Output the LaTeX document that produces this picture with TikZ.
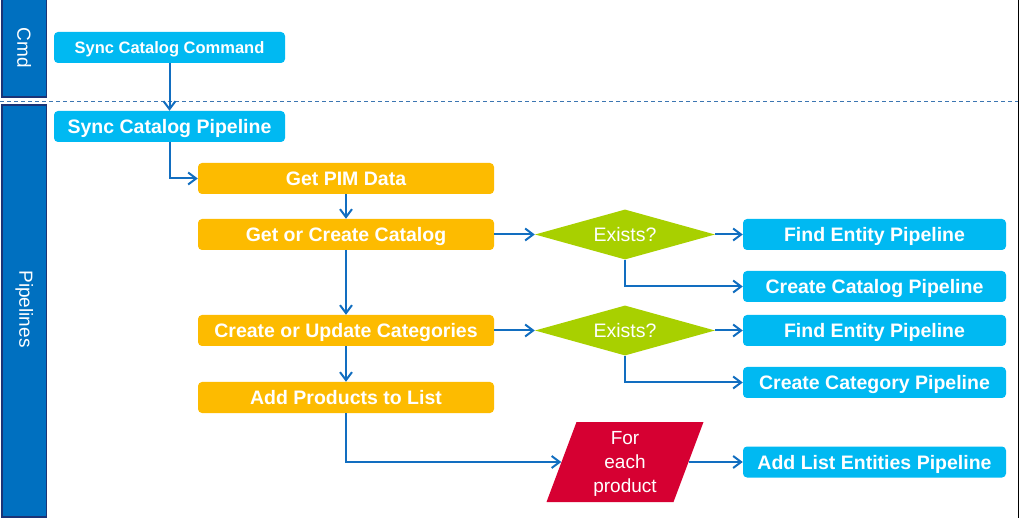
\documentclass[tikz,border=0pt]{standalone}
\usepackage{fontspec}
\setmainfont{Liberation Sans}
\usetikzlibrary{shapes.geometric,arrows.meta}

\definecolor{lanefill}{RGB}{0,112,192}
\definecolor{laneedge}{RGB}{28,52,118}
\definecolor{pipeblue}{RGB}{0,185,242}
\definecolor{stageorange}{RGB}{253,187,0}
\definecolor{checkgreen}{RGB}{168,208,0}
\definecolor{loopred}{RGB}{214,0,50}
\definecolor{flowblue}{RGB}{18,110,192}
\definecolor{splitblue}{RGB}{60,118,178}

\begin{document}
\begin{tikzpicture}[x=1pt,y=-1pt,
  lane/.style={draw=laneedge,line width=1.5pt,fill=lanefill},
  lanelabel/.style={text=white,rotate=-90,font=\fontsize{19}{21}\selectfont},
  pipe/.style={rounded corners=4pt,fill=pipeblue,text=white,inner sep=0pt,
    text height=14pt,text depth=0pt,
    font=\bfseries\fontsize{19.5}{21}\selectfont,minimum width=263pt,minimum height=31pt},
  stage/.style={pipe,fill=stageorange,minimum width=296pt},
  check/.style={diamond,aspect=3.6,fill=checkgreen,text=white,inner sep=0pt,
    text height=14pt,text depth=0pt,
    font=\fontsize{19.5}{21}\selectfont,minimum width=180pt,minimum height=50pt},
  flow/.style={draw=flowblue,line width=2pt,-{Straight Barb[length=8pt,width=12pt]}}
]
  \useasboundingbox (0,0) rectangle (1020,518);

  % lanes
  \draw[lane] (2,-3) rectangle (46.5,97);
  \node[lanelabel] (cmdlane) at (24.25,48) {Cmd};
  \draw[lane] (2,105) rectangle (46.5,517);
  \node[lanelabel] (pipelane) at (24.25,309) {Pipelines};
  \draw[splitblue,line width=1pt,dash pattern=on 4pt off 3pt] (0,102) -- (1020,102);
  \draw[black,line width=1pt] (1018.5,0) -- (1018.5,518);

  % left column
  \node[pipe,minimum width=231pt,text height=12pt,font=\bfseries\fontsize{16.5}{18}\selectfont] (cmd) at (169.5,47.5) {Sync Catalog Command};
  \node[pipe,minimum width=231pt] (syncpipe) at (169.5,126.5) {Sync Catalog Pipeline};
  \node[stage] (pim) at (346,178.5) {Get PIM Data};
  \node[stage] (getcat) at (346,234.5) {Get or Create Catalog};
  \node[stage] (updcat) at (346,330.5) {Create or Update Categories};
  \node[stage] (addprod) at (346,397.5) {Add Products to List};

  % checks
  \node[check] (exists1) at (625,234.5) {Exists?};
  \node[check] (exists2) at (625,330.5) {Exists?};

  % loop
  \fill[loopred] (576.5,422) -- (703.5,422) -- (673.5,502) -- (546.5,502) -- cycle;
  \node[text=white,align=center,inner sep=0pt,minimum width=127pt,minimum height=80pt,
    font=\fontsize{19}{24}\selectfont] (foreach) at (625,462) {\strut For\\each\\product};

  % right column
  \node[pipe] (find1) at (874.5,234.5) {Find Entity Pipeline};
  \node[pipe] (createcat) at (874.5,286.5) {Create Catalog Pipeline};
  \node[pipe] (find2) at (874.5,330.5) {Find Entity Pipeline};
  \node[pipe] (createcategory) at (874.5,382.5) {Create Category Pipeline};
  \node[pipe] (addlist) at (874.5,462) {Add List Entities Pipeline};

  % connectors
  \draw[flow] (cmd) -- (syncpipe);
  \draw[flow] (syncpipe.south) |- (pim.west);
  \draw[flow] (pim) -- (getcat);
  \draw[flow] (getcat) -- (updcat);
  \draw[flow] (updcat) -- (addprod);
  \draw[flow] (addprod.south) |- (foreach.west);
  \draw[flow] (getcat) -- (exists1);
  \draw[flow] (exists1) -- (find1);
  \draw[flow] (exists1.south) |- (createcat.west);
  \draw[flow] (updcat) -- (exists2);
  \draw[flow] (exists2) -- (find2);
  \draw[flow] (exists2.south) |- (createcategory.west);
  \draw[flow] (foreach) -- (addlist);
\end{tikzpicture}
\end{document}
